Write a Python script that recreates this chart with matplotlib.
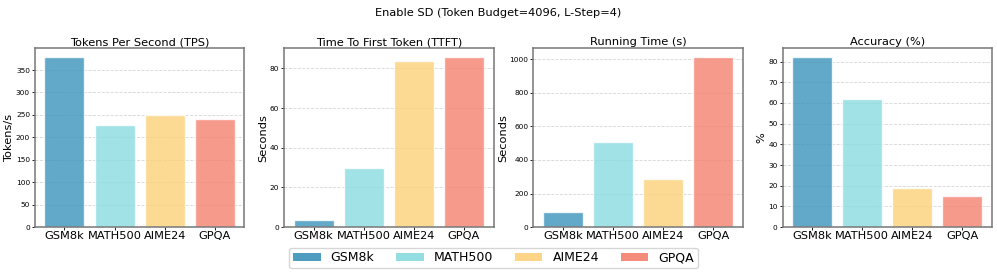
import matplotlib
matplotlib.use('Agg')
import matplotlib.pyplot as plt
from matplotlib.patches import Patch

datasets = ['GSM8k', 'MATH500', 'AIME24', 'GPQA']
colors = ['#3B93BB', '#88DBE0', '#FCD179', '#F4816F']

tps = [380, 228, 250, 240]
ttft = [3.8, 30, 84, 86]
run_time = [90, 505, 288, 1015]
accuracy = [82.4, 62, 18.8, 15]

panels = [
    ('Tokens Per Second (TPS)', 'Tokens/s', tps),
    ('Time To First Token (TTFT)', 'Seconds', ttft),
    ('Running Time (s)', 'Seconds', run_time),
    ('Accuracy (%)', '%', accuracy),
]

fig, axes = plt.subplots(1, 4, figsize=(9.97, 2.73), dpi=100)
fig.subplots_adjust(left=0.035, right=0.995, top=0.824, bottom=0.168, wspace=0.19)

for ax, (title, ylabel, vals) in zip(axes, panels):
    ax.bar(datasets, vals, color=colors, alpha=0.8, edgecolor='white', width=0.8)
    ax.set_title(title, fontsize=8.2, pad=2)
    ax.set_ylabel(ylabel, fontsize=8.2, labelpad=1)
    ax.tick_params(axis='y', labelsize=5.3, length=2, pad=1.5, width=0.6)
    ax.tick_params(axis='x', labelsize=8.2, length=2, pad=1, width=0.6)
    ax.grid(axis='y', linestyle='--', color='#cccccc', alpha=0.8, linewidth=0.6)
    ax.set_axisbelow(True)
    for s in ax.spines.values():
        s.set_color('#777777')
        s.set_linewidth(1.1)

fig.suptitle('Enable SD (Token Budget=4096, L-Step=4)', fontsize=8.2, y=0.972)

handles = [Patch(facecolor=c, alpha=0.9, label=d) for c, d in zip(colors, datasets)]
fig.legend(handles=handles, loc='lower center', ncol=4, fontsize=9,
           bbox_to_anchor=(0.495, 0.018), borderaxespad=0,
           handlelength=2.2, handletextpad=0.8, columnspacing=1.75,
           frameon=True, borderpad=0.3)

fig.savefig('out.png', dpi=100)
